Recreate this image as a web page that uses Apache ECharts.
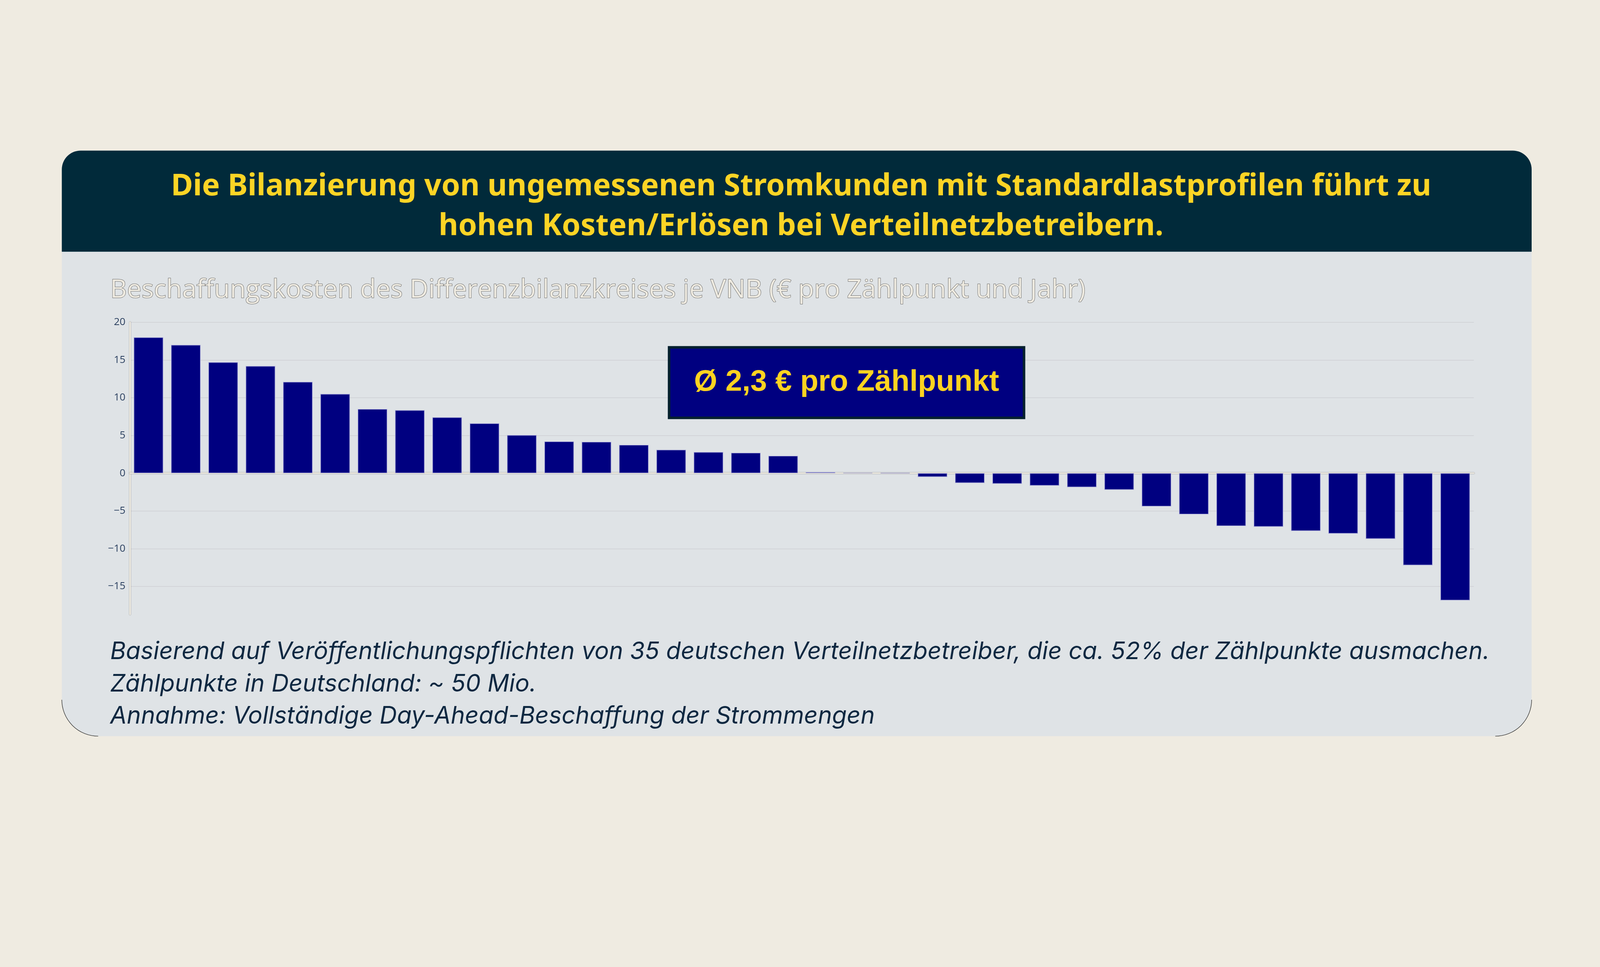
<!DOCTYPE html>
<html>
<head>
<meta charset="utf-8">
<script src="https://cdn.jsdelivr.net/npm/echarts@6/dist/echarts.min.js"></script>
<style>
html,body{margin:0;padding:0;background:#efebe1;overflow:hidden;}
#c{width:100vw;height:100vh;}
</style>
</head>
<body>
<div id="c"></div>
<script>
// ---- data ----
const titleLines = [
  'Die Bilanzierung von ungemessenen Stromkunden mit Standardlastprofilen führt zu',
  'hohen Kosten/Erlösen bei Verteilnetzbetreibern.'
];
const subtitle = 'Beschaffungskosten des Differenzbilanzkreises je VNB (€ pro Zählpunkt und Jahr)';
const categories = Array.from({length: 36}, (_, i) => 'VNB ' + (i + 1));
const values = [
  18.0, 17.0, 14.7, 14.2, 12.1, 10.5, 8.5, 8.35, 7.4, 6.6,
  5.05, 4.2, 4.15, 3.75, 3.1, 2.8, 2.7, 2.3, 0.15, 0.05,
  0.04, -0.5, -1.3, -1.4, -1.65, -1.85, -2.2, -4.4, -5.45, -7.0,
  -7.1, -7.65, -8.0, -8.7, -12.2, -16.85
];
const yTicks = [-15, -10, -5, 0, 5, 10, 15, 20];
const avgLabel = 'Ø 2,3 € pro Zählpunkt';
const footLines = [
  'Basierend auf Veröffentlichungspflichten von 35 deutschen Verteilnetzbetreiber, die ca. 52% der Zählpunkte ausmachen.',
  'Zählpunkte in Deutschland: ~ 50 Mio.',
  'Annahme: Vollständige Day-Ahead-Beschaffung der Strommengen'
];

const W = window.innerWidth, H = window.innerHeight;
const s = Math.min(W / 4400, H / 2475);
const p = v => v * s;

const mctx = document.createElement('canvas').getContext('2d');
function fit(text, pre, family, targetW) {
  mctx.font = pre + ' 100px ' + family;
  const w = mctx.measureText(text).width;
  return 100 * targetW / w;
}
const titleSize = fit(titleLines[0], 'bold', '"Noto Sans"', 3466);
const subSize = fit(subtitle, 'normal', '"Open Sans"', 2683);
const footSize = fit(footLines[0], 'italic', 'Inter', 3794);
const avgSize = fit(avgLabel, 'bold', '"Liberation Sans"', 839);

const chart = echarts.init(document.getElementById('c'), null, {renderer: 'canvas'});

const footY = [1792, 1881, 1970];

const option = {
  backgroundColor: '#efebe1',
  animation: false,
  grid: {left: p(357), right: W - p(4053), top: p(886), bottom: H - p(1689), containLabel: false},
  xAxis: {
    type: 'category',
    data: categories,
    axisLabel: {show: false},
    axisTick: {show: false},
    axisLine: {show: true, onZero: true, lineStyle: {color: '#f1ede3', width: p(4), shadowColor: 'rgba(0,0,0,0.6)', shadowBlur: p(2)}},
    splitLine: {show: false}
  },
  yAxis: {
    type: 'value',
    min: -18.7,
    max: 20,
    splitNumber: 8,
    axisLine: {show: true, lineStyle: {color: '#f1ede3', width: p(4), shadowColor: 'rgba(0,0,0,0.6)', shadowBlur: p(2)}},
    axisTick: {show: false},
    axisLabel: {
      show: true,
      showMinLabel: false,
      margin: p(12),
      color: '#2a3f5f',
      fontFamily: 'Open Sans',
      fontSize: p(28),
      formatter: function (v) {
        if (yTicks.indexOf(v) < 0) return '';
        return v < 0 ? '\u2212' + Math.abs(v) : String(v);
      }
    },
    splitLine: {show: true, showMinLine: false, lineStyle: {color: '#d2d4d8', width: p(2)}}
  },
  series: [{
    type: 'bar',
    data: values,
    barCategoryGap: '21%',
    itemStyle: {color: '#000080', borderColor: '#9a9ad2', borderWidth: p(1.5)},
    z: 3
  }],
  graphic: [
    {type: 'rect', z: -10, shape: {x: p(170), y: p(414), width: p(4042), height: p(1610), r: [p(52), p(52), p(100), p(100)]},
     style: {fill: '#dfe3e6'}},
    {type: 'arc', z: -8, shape: {cx: p(270), cy: p(1924), r: p(100), startAngle: Math.PI / 2, endAngle: Math.PI},
     style: {stroke: 'rgba(0,0,0,0.75)', lineWidth: p(1.5), fill: null}},
    {type: 'arc', z: -8, shape: {cx: p(4112), cy: p(1924), r: p(100), startAngle: 0, endAngle: Math.PI / 2},
     style: {stroke: 'rgba(0,0,0,0.75)', lineWidth: p(1.5), fill: null}},
    {type: 'rect', z: -9, shape: {x: p(170), y: p(414), width: p(4042), height: p(278), r: [p(52), p(52), 0, 0]},
     style: {fill: '#012a3a'}},
    {type: 'text', z: 5, x: p(2203), y: p(514),
     style: {text: titleLines[0], fill: '#fdd425', font: 'bold ' + p(titleSize) + 'px "Noto Sans"',
             align: 'center', verticalAlign: 'middle'}},
    {type: 'text', z: 5, x: p(2203), y: p(623),
     style: {text: titleLines[1], fill: '#fdd425', font: 'bold ' + p(titleSize) + 'px "Noto Sans"',
             align: 'center', verticalAlign: 'middle'}},
    {type: 'text', z: 5, x: p(303), y: p(798),
     style: {text: subtitle, fill: '#efebe1', font: p(subSize) + 'px "Open Sans"', align: 'left', verticalAlign: 'middle',
             stroke: '#4a4a4a', lineWidth: p(1.6)}},
    {type: 'rect', z: 20, shape: {x: p(1840), y: p(955), width: p(976), height: p(194)},
     style: {fill: '#000080', stroke: '#05202e', lineWidth: p(7)}},
    {type: 'text', z: 21, x: p(2328), y: p(1052),
     style: {text: avgLabel, fill: '#ffd320', font: 'bold ' + p(avgSize) + 'px "Liberation Sans"', align: 'center', verticalAlign: 'middle'}},
    {type: 'text', z: 5, x: p(303), y: p(footY[0]),
     style: {text: footLines[0], fill: '#0e2841', font: 'italic ' + p(footSize) + 'px Inter', align: 'left', verticalAlign: 'middle'}},
    {type: 'text', z: 5, x: p(303), y: p(footY[1]),
     style: {text: footLines[1], fill: '#0e2841', font: 'italic ' + p(footSize) + 'px Inter', align: 'left', verticalAlign: 'middle'}},
    {type: 'text', z: 5, x: p(303), y: p(footY[2]),
     style: {text: footLines[2], fill: '#0e2841', font: 'italic ' + p(footSize) + 'px Inter', align: 'left', verticalAlign: 'middle'}}
  ]
};
chart.setOption(option);
</script>
</body>
</html>
